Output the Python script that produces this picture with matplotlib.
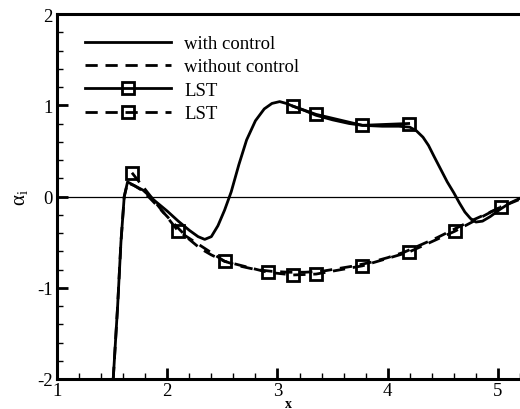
import numpy as np
import matplotlib
matplotlib.use("Agg")
from matplotlib import pyplot as plt
from matplotlib.ticker import MultipleLocator

# DNS curve, with control
x_with = [1.51, 1.55, 1.58, 1.61, 1.64, 1.70, 1.78, 1.89, 2.00, 2.10, 2.20, 2.28,
          2.34, 2.40, 2.46, 2.52, 2.58, 2.65, 2.72, 2.80, 2.88, 2.95, 3.02, 3.08,
          3.14, 3.25, 3.35, 3.50, 3.65, 3.77, 3.95, 4.10, 4.20, 4.26, 4.32, 4.37,
          4.42, 4.48, 4.54, 4.60, 4.65, 4.70, 4.75, 4.80, 4.86, 4.93, 5.02, 5.11, 5.20]
y_with = [-2.0, -1.2, -0.5, 0.0, 0.16, 0.12, 0.07, -0.05, -0.16, -0.27, -0.37, -0.44,
          -0.47, -0.44, -0.32, -0.15, 0.05, 0.35, 0.62, 0.83, 0.96, 1.02, 1.04, 1.02,
          0.99, 0.94, 0.89, 0.84, 0.80, 0.78, 0.77, 0.77, 0.76, 0.72, 0.65, 0.56,
          0.44, 0.30, 0.16, 0.04, -0.07, -0.17, -0.24, -0.28, -0.27, -0.22, -0.14, -0.07, -0.02]

# DNS curve, without control
x_without = [1.51, 1.55, 1.58, 1.61, 1.64, 1.70, 1.78, 1.90, 2.00, 2.11, 2.20, 2.30,
             2.40, 2.52, 2.65, 2.80, 2.95, 3.10, 3.25, 3.40, 3.55, 3.70, 3.85, 4.00,
             4.15, 4.30, 4.45, 4.60, 4.75, 4.88, 5.00, 5.10, 5.20]
y_without = [-2.0, -1.2, -0.5, 0.0, 0.15, 0.12, 0.06, -0.09, -0.22, -0.36, -0.47, -0.57,
             -0.64, -0.71, -0.76, -0.80, -0.82, -0.83, -0.83, -0.82, -0.79, -0.76, -0.72, -0.67,
             -0.61, -0.53, -0.45, -0.36, -0.27, -0.20, -0.13, -0.08, -0.03]

# LST points
x_lst_with = [3.14, 3.35, 3.77, 4.19]
y_lst_with = [0.99, 0.90, 0.78, 0.80]
x_lst_without = [1.68, 2.10, 2.52, 2.91, 3.14, 3.35, 3.77, 4.19, 4.61, 5.03]
y_lst_without = [0.26, -0.38, -0.71, -0.83, -0.86, -0.85, -0.76, -0.61, -0.38, -0.11]

plt.rcParams["font.family"] = "Liberation Serif"
plt.rcParams["axes.unicode_minus"] = False
plt.rcParams["mathtext.fontset"] = "custom"
plt.rcParams["mathtext.rm"] = "Liberation Serif"
plt.rcParams["mathtext.it"] = "Liberation Serif:italic"

fig = plt.figure(figsize=(5.2, 4.1), dpi=100)
ax = fig.add_axes([57 / 520, 30 / 410, 1 - 57 / 520, 365 / 410])

lw = 2.0
dash = (4.4, 2.8)

ax.axhline(0, color="black", lw=0.9)

ax.plot(x_with, y_with, "k-", lw=lw, label="with control")
ax.plot(x_without, y_without, "k--", lw=lw, dashes=dash, label="without control")
ax.plot(x_lst_with, y_lst_with, "k-", lw=lw, marker="s", ms=9, mfc="none",
        mew=2, label="LST")
ax.plot(x_lst_without, y_lst_without, "k--", lw=lw, dashes=dash, marker="s", ms=9,
        mfc="none", mew=2, label="LST")

ax.set_xlim(1, 5.2)
ax.set_ylim(-2, 2)
ax.xaxis.set_major_locator(MultipleLocator(1))
ax.xaxis.set_minor_locator(MultipleLocator(0.2))
ax.yaxis.set_major_locator(MultipleLocator(1))
ax.yaxis.set_minor_locator(MultipleLocator(0.2))
ax.tick_params(which="both", direction="in", top=False, right=False, labelsize=13.5)
ax.tick_params(which="major", length=8, width=2)
ax.tick_params(which="minor", length=4, width=1)
ax.tick_params(axis="x", pad=2)
ax.tick_params(axis="y", pad=3)

for s in ["left", "bottom", "top"]:
    ax.spines[s].set_linewidth(2.2)
ax.spines["right"].set_visible(False)

ax.set_xlabel("x", fontsize=10, fontweight="bold", labelpad=-1)
ax.set_ylabel(r"$\mathrm{α}_\mathrm{i}$", fontsize=15, labelpad=5)

ax.legend(loc="upper left", bbox_to_anchor=(85 / 520, 1 - 36 / 410),
          bbox_transform=fig.transFigure, frameon=False, fontsize=13.5,
          handlelength=4.6, handletextpad=0.7, labelspacing=0.33, numpoints=1,
          borderpad=0, borderaxespad=0)

fig.savefig("out.png", dpi=100)
